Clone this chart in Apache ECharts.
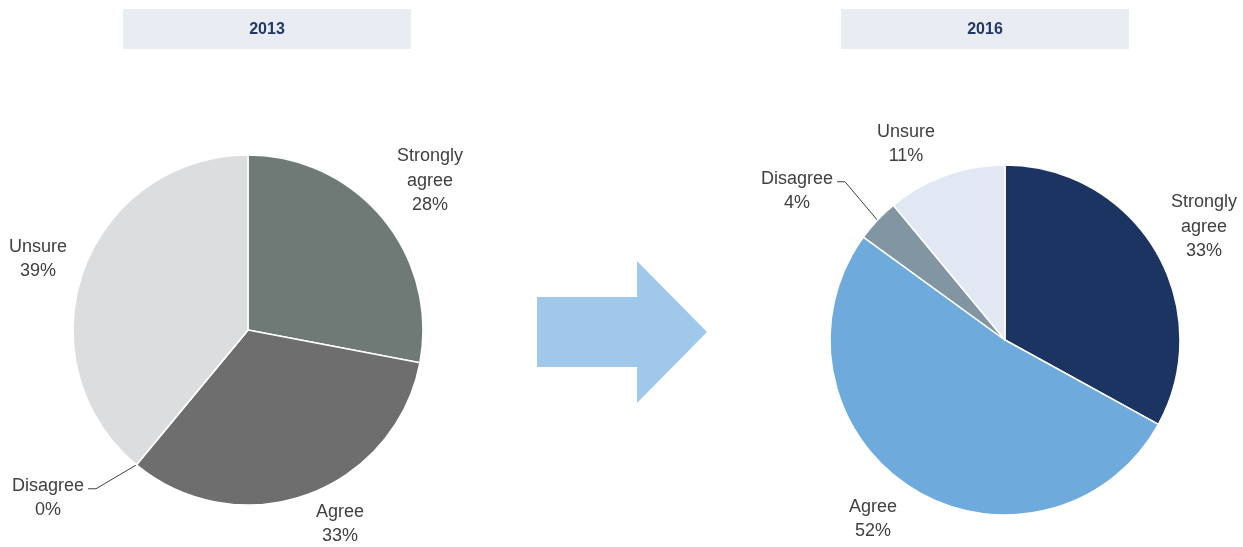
<!DOCTYPE html>
<html>
<head>
<meta charset="utf-8">
<script src="https://cdn.jsdelivr.net/npm/echarts@6/dist/echarts.min.js"></script>
<style>
html,body{margin:0;padding:0;background:#fff;}
#main{width:1243px;height:547px;}
</style>
</head>
<body>
<div id="main"></div>
<script>
// ---- data ----
var years = ['2013', '2016'];
var categories = ['Strongly agree', 'Agree', 'Disagree', 'Unsure'];
var values2013 = [28, 33, 0, 39];
var values2016 = [33, 52, 4, 11];

// ---- styles ----
var colors2013 = ['#6f7a76', '#6e6e6e', '#a5a5a5', '#dcdddf'];
var colors2016 = ['#1b3461', '#6eaadc', '#8196a2', '#e1e8f4'];
var pieCenters = [[248, 330], [1005, 340]];
var pieRadius = 175;
// label centre offsets from pie centre, per category
var labelOffsets = [
  { 'Strongly agree': [182, -149], 'Agree': [92, 194], 'Disagree': [-200, 168], 'Unsure': [-210, -71] },
  { 'Strongly agree': [199, -113], 'Agree': [-132, 179], 'Disagree': [-208, -149], 'Unsure': [-99, -196] }
];
var LH = 24.5;
var textColor = '#404040';

var chart = echarts.init(document.getElementById('main'), null, { renderer: 'canvas' });

function makeSeries(idx, values, colors) {
  return {
    type: 'pie',
    silent: true,
    animation: false,
    center: pieCenters[idx],
    radius: pieRadius,
    startAngle: 90,
    clockwise: true,
    avoidLabelOverlap: false,
    data: categories.map(function (c, i) {
      return {
        name: c,
        value: values[i],
        itemStyle: { color: colors[i] },
        labelLine: { show: c === 'Disagree' }
      };
    }),
    itemStyle: { borderColor: '#ffffff', borderWidth: 1.5 },
    label: {
      show: true,
      position: 'outside',
      color: textColor,
      fontFamily: 'Liberation Sans',
      fontSize: 18,
      lineHeight: LH,
      align: 'center',
      formatter: function (p) {
        return p.name.replace(' ', '\n') + '\n' + p.value + '%';
      }
    },
    labelLine: {
      show: false,
      length: 20,
      length2: 10,
      lineStyle: { color: '#404040', width: 1 }
    },
    labelLayout: function (params) {
      var name = categories[params.dataIndex];
      var off = labelOffsets[idx][name];
      var cx = pieCenters[idx][0] + off[0];
      var cy = pieCenters[idx][1] + off[1];
      var res = { x: cx, y: cy, align: 'center', verticalAlign: 'middle' };
      if (name === 'Disagree' && params.labelLinePoints) {
        var start = params.labelLinePoints[0];
        var w = params.labelRect.width;
        var firstLineY = cy - LH / 2 + 3;
        var endX = cx + w / 2 + 4;
        res.labelLinePoints = [start, [endX + 8, firstLineY], [endX, firstLineY]];
      }
      return res;
    }
  };
}

var boxW = 288, boxH = 40;
var boxCenters = [267, 985];

var option = {
  animation: false,
  backgroundColor: '#ffffff',
  graphic: [
    { type: 'rect', shape: { x: boxCenters[0] - boxW / 2, y: 9, width: boxW, height: boxH }, style: { fill: '#e9edf3' }, silent: true },
    { type: 'rect', shape: { x: boxCenters[1] - boxW / 2, y: 9, width: boxW, height: boxH }, style: { fill: '#e9edf3' }, silent: true },
    { type: 'text', x: boxCenters[0], y: 30, style: { text: years[0], fill: '#1f3864', font: 'bold 16px "Liberation Sans"', align: 'center', verticalAlign: 'middle' }, silent: true },
    { type: 'text', x: boxCenters[1], y: 30, style: { text: years[1], fill: '#1f3864', font: 'bold 16px "Liberation Sans"', align: 'center', verticalAlign: 'middle' }, silent: true },
    {
      type: 'polygon',
      shape: { points: [[537, 297], [637, 297], [637, 261], [707, 332], [637, 403], [637, 367], [537, 367]] },
      style: { fill: '#9fc8ea' },
      silent: true
    }
  ],
  series: [
    makeSeries(0, values2013, colors2013),
    makeSeries(1, values2016, colors2016)
  ]
};
chart.setOption(option);
</script>
</body>
</html>
